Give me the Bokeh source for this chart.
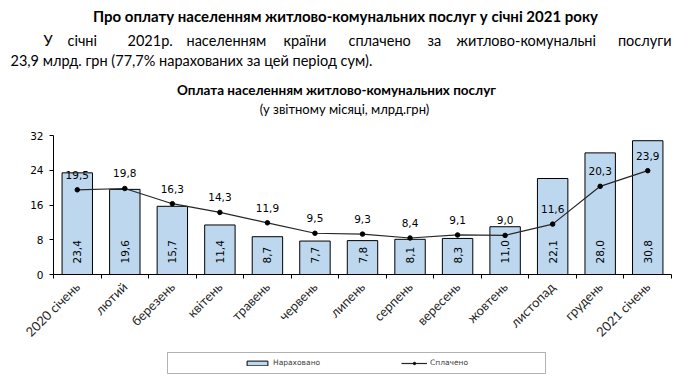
import numpy as np
from math import pi
from bokeh.plotting import figure
from bokeh.models import (Range1d, LinearAxis, FixedTicker, Label, BoxAnnotation,
                          Legend, LegendItem, ColumnDataSource)
from bokeh.core.properties import value
from bokeh.embed import file_html
from bokeh.resources import INLINE

# ---------------- data ----------------
months = ["2020 січень", "лютий", "березень", "квітень", "травень", "червень",
          "липень", "серпень", "вересень", "жовтень", "листопад", "грудень",
          "2021 січень"]
accrued = [23.4, 19.6, 15.7, 11.4, 8.7, 7.7, 7.8, 8.1, 8.3, 11.0, 22.1, 28.0, 30.8]
paid = [19.5, 19.8, 16.3, 14.3, 11.9, 9.5, 9.3, 8.4, 9.1, 9.0, 11.6, 20.3, 23.9]
y_ticks = [0, 8, 16, 24, 32]

title_text = "Про оплату населенням житлово-комунальних послуг у січні 2021 року"
line1_words = ["У", "січні", "2021р.", "населенням", "країни", "сплачено", "за",
               "житлово-комунальні", "послуги"]
line2_text = "23,9 млрд. грн (77,7% нарахованих за цей період сум)."
chart_title = "Оплата населенням житлово-комунальних послуг"
chart_subtitle = "(у звітному місяці, млрд.грн)"
legend_bar = "Нараховано"
legend_line = "Сплачено"

# ---------------- layout / style ----------------
TXTF = "Lato"
NUMF = "DejaVu Sans"
BAR_FILL = "#BDD7EE"
W = 690
TOP_H, MAIN_H, LEG_H = 127, 223, 32


def fmt(v):
    return f"{v:.1f}".replace(".", ",")


def blank_fig(h, x0, x1, y_top, y_bot):
    f = figure(width=W, height=h, x_range=Range1d(x0, x1), y_range=Range1d(y_bot, y_top),
               output_backend="svg", toolbar_location=None,
               x_axis_type=None, y_axis_type=None, min_border=0)
    f.outline_line_color = None
    f.xgrid.visible = False
    f.ygrid.visible = False
    f.background_fill_color = "white"
    f.border_fill_color = "white"
    return f


# ---------------- text block ----------------
top = blank_fig(TOP_H, 0, W, 0, TOP_H)   # y grows downwards (page pixels)


def add_text(txt, px, py, size, bold=False, align="left", color="black"):
    top.add_layout(Label(x=px, y=py, text=txt, text_font=TXTF, text_font_size=size,
                         text_font_style="bold" if bold else "normal",
                         text_align=align, text_baseline="middle", text_color=color))


add_text(title_text, 345, 15, "15px", bold=True, align="center")
line1_x = [43, 67, 127, 186, 283, 348, 427, 456, 671]
for i, (w, x) in enumerate(zip(line1_words, line1_x)):
    add_text(w, x, 40, "14.5px", align="right" if i == len(line1_words) - 1 else "left")
add_text(line2_text, 10, 60, "14.5px")
add_text(chart_title, 336, 89, "13.5px", bold=True, align="center")
add_text(chart_subtitle, 344, 108, "13px", align="center")

# ---------------- main chart ----------------
n = len(months)
centers = list(np.arange(n) + 0.5)

src = ColumnDataSource(dict(
    x=centers, accrued=accrued, paid=paid,
    acc_lbl=[fmt(v) for v in accrued], paid_lbl=[fmt(v) for v in paid],
))

p = figure(width=W, height=MAIN_H, x_range=Range1d(0, n),
           y_range=Range1d(y_ticks[0], y_ticks[-1]),
           output_backend="svg", toolbar_location=None,
           x_axis_type=None, y_axis_type=None,
           min_border_left=53, min_border_right=19, min_border_top=8, min_border_bottom=76)
p.outline_line_color = None
p.xgrid.visible = False
p.ygrid.visible = False
p.background_fill_color = "white"
p.border_fill_color = "white"

yax = LinearAxis(ticker=FixedTicker(ticks=y_ticks, minor_ticks=[]))
yax.major_tick_in = 0
yax.major_tick_out = 4
yax.minor_tick_line_color = None
yax.axis_line_color = "black"
yax.major_tick_line_color = "black"
yax.major_label_text_font = NUMF
yax.major_label_text_font_size = "10.5px"
yax.major_label_text_color = "black"
yax.major_label_standoff = 6
p.add_layout(yax, "left")

xax = LinearAxis(ticker=FixedTicker(ticks=centers, minor_ticks=list(range(n + 1))))
xax.major_tick_in = 0
xax.major_tick_out = 0
xax.minor_tick_in = 0
xax.minor_tick_out = 4
xax.minor_tick_line_color = "black"
xax.axis_line_color = "black"
xax.major_label_overrides = {c: m for c, m in zip(centers, months)}
xax.major_label_orientation = pi / 4
xax.major_label_text_font = TXTF
xax.major_label_text_font_size = "13px"
xax.major_label_text_color = "#262626"
xax.major_label_standoff = 6
p.add_layout(xax, "below")

BAR_STYLE = dict(width=0.64, fill_color=BAR_FILL, line_color="black", line_width=1)
LINE_STYLE = dict(line_color="#262626", line_width=1.2)
MK_STYLE = dict(size=4.5, marker="circle", fill_color="black", line_color="black")

p.vbar(x="x", top="accrued", source=src, **BAR_STYLE)
p.line(x="x", y="paid", source=src, **LINE_STYLE)
p.scatter(x="x", y="paid", source=src, **MK_STYLE)

p.text(x="x", y=0, text="acc_lbl", source=src, angle=pi / 2, y_offset=-11,
       text_align="left", text_baseline="middle",
       text_font=value(NUMF), text_font_size="10.5px", text_color="black")
p.text(x="x", y="paid", text="paid_lbl", source=src, y_offset=-15,
       text_align="center", text_baseline="middle",
       text_font=value(NUMF), text_font_size="10.5px", text_color="black")

# ---------------- legend strip ----------------
TOP_OF_LEG = TOP_H + MAIN_H
leg = blank_fig(LEG_H, 0, W, TOP_OF_LEG, TOP_OF_LEG + LEG_H)
leg.add_layout(BoxAnnotation(left=167, right=545, top=352, bottom=373,
                             fill_alpha=0, line_color="black", line_width=1))
# hidden renderers that only supply the legend glyphs (same styles as the chart)
r_bar = leg.vbar(x="x", top="accrued", source=src, visible=False, **BAR_STYLE)
r_line = leg.line(x="x", y="paid", source=src, visible=False, **LINE_STYLE)
r_mk = leg.scatter(x="x", y="paid", source=src, visible=False, **MK_STYLE)
legend = Legend(items=[LegendItem(label=legend_bar, renderers=[r_bar]),
                       LegendItem(label=legend_line, renderers=[r_line, r_mk])],
                orientation="horizontal", location=(244, LEG_H - 17),
                padding=0, spacing=80, margin=0, glyph_width=26, glyph_height=6,
                label_height=8, label_width=48, label_standoff=3,
                label_text_font=NUMF, label_text_font_size="7.5px",
                label_text_color="#404040", border_line_color=None,
                background_fill_alpha=0, inactive_fill_alpha=0)
leg.add_layout(legend, "center")

open("out.html", "w").write(file_html([top, p, leg], INLINE))
